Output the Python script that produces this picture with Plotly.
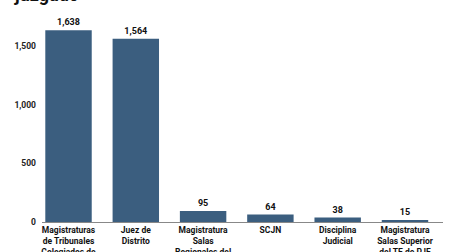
import plotly.graph_objects as go

categories = [
    "Magistraturas<br>de Tribunales<br>Colegiados de<br>Circuito",
    "Juez de<br>Distrito",
    "Magistratura<br>Salas<br>Regionales del<br>TE de PJF",
    "SCJN",
    "Disciplina<br>Judicial",
    "Magistratura<br>Salas Superior<br>del TE de PJF",
]
values = [1638, 1564, 95, 64, 38, 15]
tick_vals = [0, 500, 1000, 1500]
tick_text = ["0", "500", "1,000", "1,500"]

FONT = "Roboto"

fig = go.Figure(
    go.Bar(
        x=categories,
        y=values,
        marker=dict(color="#3b5e7f", line=dict(width=0)),
        text=[f"{v:,}" for v in values],
        textposition="outside",
        textfont=dict(family=FONT, size=9, color="#111111", weight=700),
        cliponaxis=False,
        width=0.69,
    )
)

fig.update_layout(
    width=449,
    height=252,
    margin=dict(l=42, r=6, t=20, b=30, autoexpand=False),
    paper_bgcolor="white",
    plot_bgcolor="white",
    showlegend=False,
    font=dict(family=FONT, size=9, color="#222222"),
    annotations=[
        dict(
            text="<b>juzgado</b>",
            xref="paper", yref="paper",
            x=-0.074, y=1.062,
            xanchor="left", yanchor="bottom",
            showarrow=False,
            font=dict(family=FONT, size=18, color="#111111"),
        )
    ],
)

fig.update_xaxes(
    automargin=False,
    range=[-0.394, 5.565],
    showgrid=False,
    showline=True,
    linecolor="#888888",
    linewidth=1,
    ticks="",
    tickangle=0,
    tickfont=dict(family=FONT, size=8.5, color="#111111", weight=700),
)
fig.update_yaxes(
    automargin=False,
    range=[0, 1725],
    showgrid=False,
    zeroline=False,
    showline=False,
    tickvals=tick_vals,
    ticktext=tick_text,
    ticks="",
    ticklabelstandoff=5,
    tickfont=dict(family=FONT, size=8.5, color="#222222", weight=700),
)

fig.write_html("out.html")
